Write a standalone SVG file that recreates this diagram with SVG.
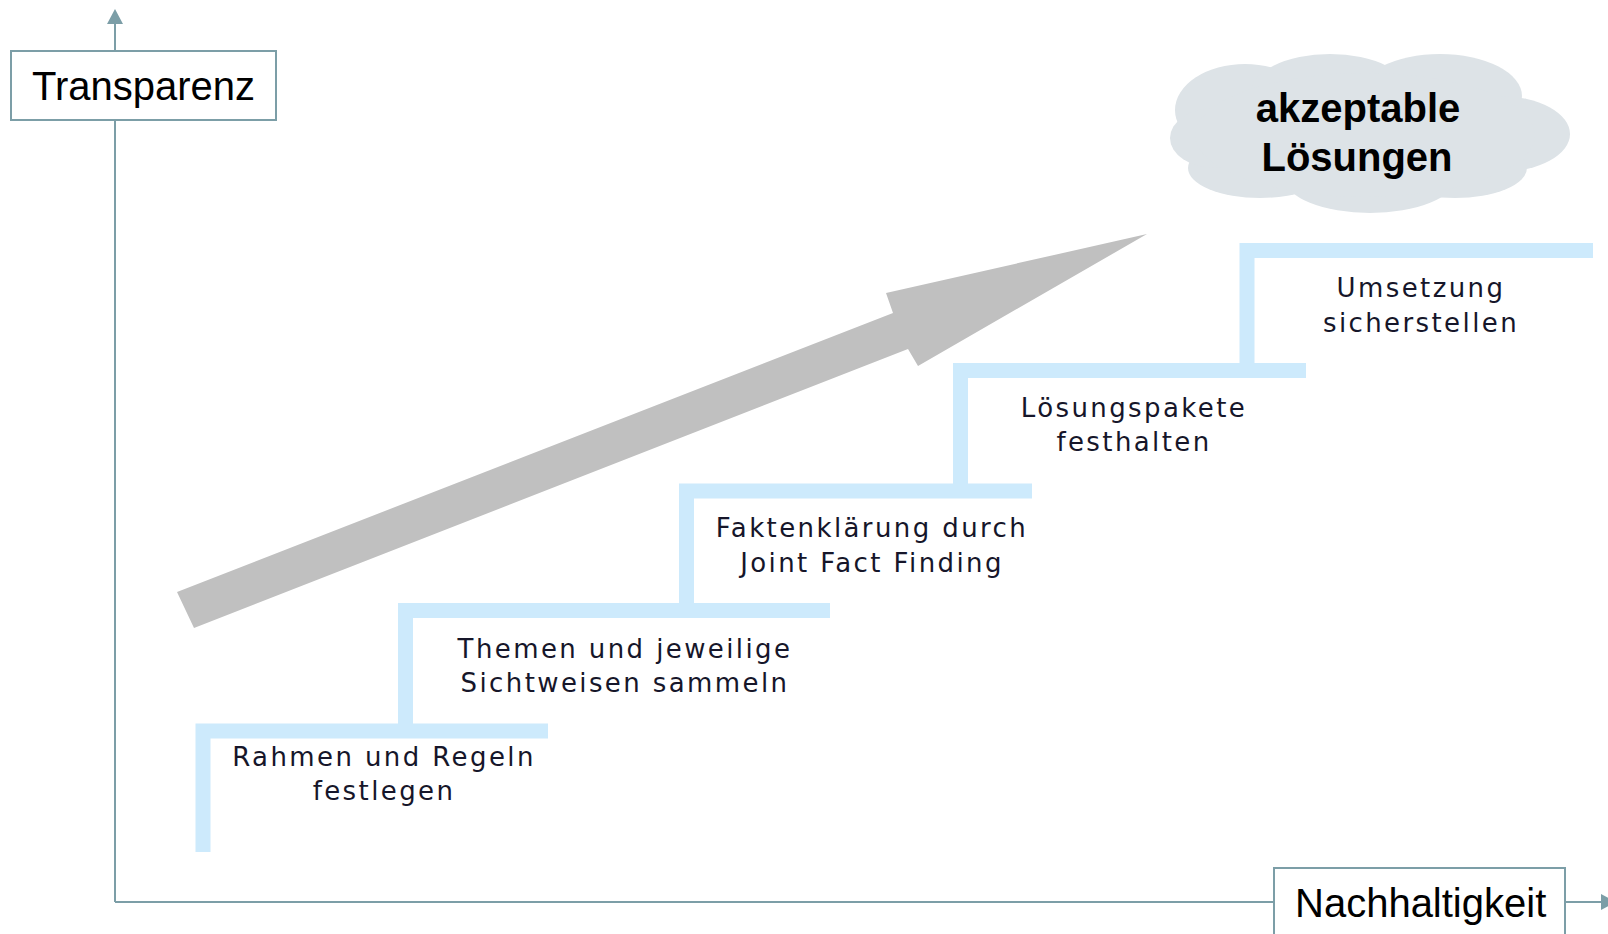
<svg xmlns="http://www.w3.org/2000/svg" width="1608" height="934" viewBox="0 0 1608 934">
  <style>
    .axis { stroke: #7c9ea7; stroke-width: 2; fill: none; }
    .axisbox { fill: #ffffff; stroke: #7c9ea7; stroke-width: 2; }
    .axislabel { font-family: "Liberation Sans", Arial, sans-serif; font-size: 40px; fill: #000000; }
    .step { fill: none; stroke: #cdeafc; stroke-width: 15; stroke-linejoin: miter; stroke-linecap: butt; }
    .steplabel { font-family: "DejaVu Sans", Verdana, sans-serif; font-size: 26px; letter-spacing: 2.4px; fill: #16162a; text-anchor: middle; }
    .cloudtext { font-family: "Liberation Sans", Arial, sans-serif; font-size: 40px; font-weight: bold; fill: #000000; text-anchor: middle; }
  </style>
  <defs>
    <marker id="axhead" viewBox="0 0 16 16" refX="1" refY="8" markerWidth="16" markerHeight="16" markerUnits="userSpaceOnUse" orient="auto">
      <path d="M0,0 L15,8 L0,16 Z" fill="#7c9ea7"/>
    </marker>
  </defs>

  <g id="connectors">
    <path class="axis" d="M115,902 V23" marker-end="url(#axhead)"/>
    <path class="axis" d="M115,902 H1602" marker-end="url(#axhead)"/>
  </g>

  <g id="big-arrow">
    <polygon points="177,592 194,628 908,349 918,366 1147,234 886,293 893,313" fill="#c0c0c0"/>
  </g>

  <g id="cloud">
    <g fill="#dde3e7">
      <ellipse cx="1245" cy="110" rx="70" ry="46"/>
      <ellipse cx="1330" cy="94" rx="80" ry="40"/>
      <ellipse cx="1440" cy="96" rx="82" ry="42"/>
      <ellipse cx="1500" cy="134" rx="70" ry="38"/>
      <ellipse cx="1455" cy="168" rx="72" ry="30"/>
      <ellipse cx="1370" cy="178" rx="85" ry="35"/>
      <ellipse cx="1260" cy="168" rx="72" ry="30"/>
      <ellipse cx="1215" cy="138" rx="45" ry="30"/>
      <ellipse cx="1365" cy="135" rx="170" ry="62"/>
    </g>
    <text class="cloudtext" x="1358" y="122">akzeptable</text>
    <text class="cloudtext" x="1357" y="171">Lösungen</text>
  </g>

  <g id="transparenz">
    <rect class="axisbox" x="11" y="51" width="265" height="69"/>
    <text class="axislabel" x="32" y="100">Transparenz</text>
  </g>

  <g id="nachhaltigkeit">
    <rect class="axisbox" x="1274" y="868" width="291" height="80"/>
    <text class="axislabel" x="1295" y="917">Nachhaltigkeit</text>
  </g>

  <g id="step1">
    <path class="step" d="M203,852 V731 H548"/>
    <text class="steplabel" x="384" y="766">Rahmen und Regeln</text>
    <text class="steplabel" x="384" y="800">festlegen</text>
  </g>

  <g id="step2">
    <path class="step" d="M405.5,731 V610.5 H830"/>
    <text class="steplabel" x="625" y="658">Themen und jeweilige</text>
    <text class="steplabel" x="625" y="692">Sichtweisen sammeln</text>
  </g>

  <g id="step3">
    <path class="step" d="M686.5,611 V491 H1032"/>
    <text class="steplabel" x="872" y="537">Faktenklärung durch</text>
    <text class="steplabel" x="872" y="572">Joint Fact Finding</text>
  </g>

  <g id="step4">
    <path class="step" d="M960.5,491 V370.5 H1306"/>
    <text class="steplabel" x="1134" y="417">Lösungspakete</text>
    <text class="steplabel" x="1134" y="451">festhalten</text>
  </g>

  <g id="step5">
    <path class="step" d="M1247,371 V250.5 H1593"/>
    <text class="steplabel" x="1421" y="297">Umsetzung</text>
    <text class="steplabel" x="1421" y="332">sicherstellen</text>
  </g>
</svg>
